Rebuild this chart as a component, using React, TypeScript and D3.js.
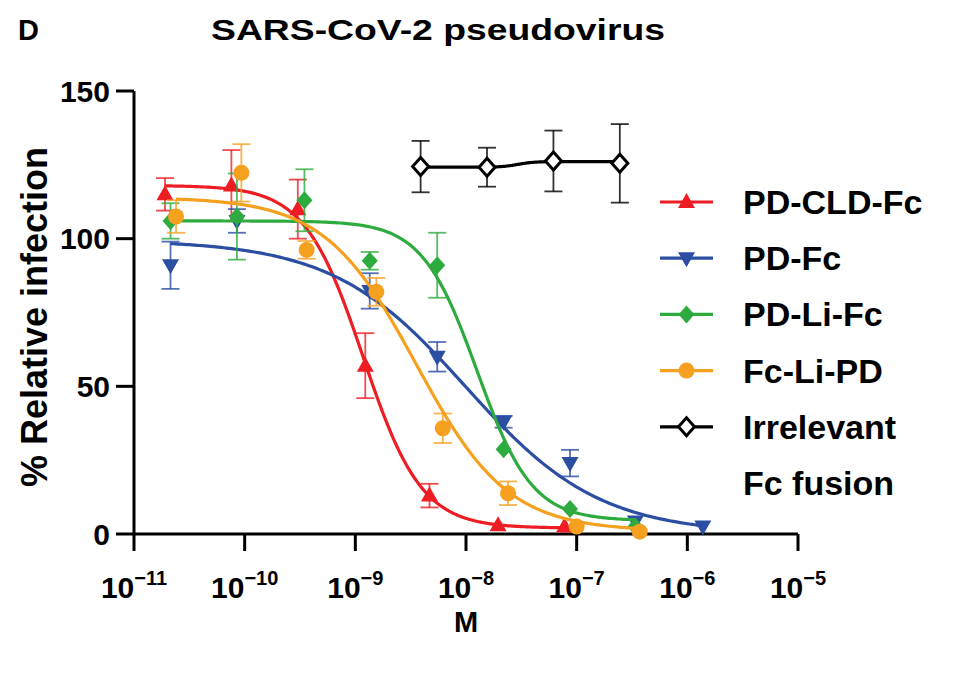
import React from "react";
import * as d3 from "d3";

// ---------- data (log10 of molar concentration, % relative infection, error) ----------
const seriesNames = ["PD-CLD-Fc", "PD-Fc", "PD-Li-Fc", "Fc-Li-PD", "Irrelevant"];
const seriesColors = ["#ee1d23", "#2b4ea2", "#2eab3e", "#f6a020", "#000000"];

const redX = [-10.72, -10.12, -9.52, -8.91, -8.33, -7.71, -7.11];
const redY = [115, 118, 110, 57, 13, 3, 2.5];
const redErr = [5.5, 12, 10, 11, 4, 0, 0];

const blueX = [-10.67, -10.07, -8.87, -8.26, -7.66, -7.06, -6.47, -5.86];
const blueY = [91, 106, 82.3, 60, 38, 24, 4.2, 2.5];
const blueErr = [8, 4, 6, 5, 2, 4.5, 0, 0];

const greenX = [-10.67, -10.07, -9.46, -8.87, -8.26, -7.66, -7.06, -6.47];
const greenY = [106, 107.5, 113, 92.5, 91, 28.7, 8.5, 2.5];
const greenErr = [6, 14.6, 10.5, 3, 11, 0, 0, 0];

const orangeX = [-10.62, -10.03, -9.44, -8.81, -8.21, -7.62, -7.0, -6.43];
const orangeY = [107.5, 122.3, 96.2, 82, 35.8, 13.8, 2.5, 0.8];
const orangeErr = [5.5, 9.7, 3, 4.7, 5, 4, 0, 0];

const blackX = [-8.41, -7.81, -7.21, -6.61];
const blackY = [124.4, 124.2, 126.3, 125.5];
const blackErr = [8.7, 6.6, 10.3, 13.3];

// fitted curve parameters: [top, bottom, logIC50, hill]
const redFit = [118, 2, -8.93, 1.65];
const blueFit = [99.5, 0, -8.0, 0.72];
const greenFit = [106, 4.5, -7.9, 1.75];
const orangeFit = [114, 1, -8.45, 1.05];
const blackFit = [126.1, 124.2, -7.53, -6];

const xTickExps = [-11, -10, -9, -8, -7, -6, -5];
const yTicks = [0, 50, 100, 150];

const W = 958;
const H = 676;
const FONT = "'Liberation Sans', Arial, Helvetica, sans-serif";

const x = d3.scaleLog().domain([1e-11, 1e-5]).range([134, 798]);
const y = d3.scaleLinear().domain([0, 150]).range([534, 91]);

function hill(p: number[], lx: number) {
  const [top, bottom, ic, h] = p;
  return bottom + (top - bottom) / (1 + Math.pow(10, (lx - ic) * h));
}

type Shape = "up" | "down" | "diamond" | "circle" | "odiamond";

function Marker({ cx, cy, shape, color }: { cx: number; cy: number; shape: Shape; color: string }) {
  if (shape === "circle") return <circle cx={cx} cy={cy} r={8} fill={color} />;
  if (shape === "up")
    return <path d={`M${cx},${cy - 9}L${cx + 8.5},${cy + 6}L${cx - 8.5},${cy + 6}Z`} fill={color} />;
  if (shape === "down")
    return <path d={`M${cx},${cy + 9}L${cx + 8.5},${cy - 6}L${cx - 8.5},${cy - 6}Z`} fill={color} />;
  if (shape === "diamond")
    return <path d={`M${cx},${cy - 9}L${cx + 8},${cy}L${cx},${cy + 9}L${cx - 8},${cy}Z`} fill={color} />;
  return (
    <path
      d={`M${cx},${cy - 9}L${cx + 8},${cy}L${cx},${cy + 9}L${cx - 8},${cy}Z`}
      fill="#fff"
      stroke={color}
      strokeWidth={3}
    />
  );
}

const series = [
  { name: seriesNames[0], color: seriesColors[0], xs: redX, ys: redY, es: redErr, fit: redFit, shape: "up" as Shape },
  { name: seriesNames[1], color: seriesColors[1], xs: blueX, ys: blueY, es: blueErr, fit: blueFit, shape: "down" as Shape },
  { name: seriesNames[2], color: seriesColors[2], xs: greenX, ys: greenY, es: greenErr, fit: greenFit, shape: "diamond" as Shape },
  { name: seriesNames[3], color: seriesColors[3], xs: orangeX, ys: orangeY, es: orangeErr, fit: orangeFit, shape: "circle" as Shape },
  { name: seriesNames[4], color: seriesColors[4], xs: blackX, ys: blackY, es: blackErr, fit: blackFit, shape: "odiamond" as Shape },
];

const line = d3
  .line<[number, number]>()
  .x((d) => x(Math.pow(10, d[0])))
  .y((d) => y(d[1]));

export default function App() {
  return (
    <svg
      width={W}
      height={H}
      style={{ position: "absolute", left: 0, top: 0, background: "#fff" }}
      fontFamily={FONT}
      fontWeight="bold"
    >
      <rect width={W} height={H} fill="#fff" />
      <text x={18} y={40} fontSize={29}>D</text>
      <text x={211} y={40} fontSize={30} textLength={454} lengthAdjust="spacingAndGlyphs">
        SARS-CoV-2 pseudovirus
      </text>

      {/* axes */}
      <g stroke="#000" strokeWidth={3} fill="none">
        <path d={`M${x(1e-11)},${y(150)}V${y(0)}H${x(1e-5)}`} />
        {yTicks.map((t) => (
          <line key={t} x1={116} x2={x(1e-11)} y1={y(t)} y2={y(t)} />
        ))}
        {xTickExps.map((e) => (
          <line key={e} x1={x(Math.pow(10, e))} x2={x(Math.pow(10, e))} y1={y(0)} y2={y(0) + 17} />
        ))}
      </g>
      {yTicks.map((t) => (
        <text key={t} x={110} y={y(t) + 10.5} fontSize={30} textAnchor="end">
          {t}
        </text>
      ))}
      {xTickExps.map((e) => (
        <text key={e} x={x(Math.pow(10, e))} y={598} fontSize={30} textAnchor="middle">
          10
          <tspan fontSize={20} dy={-13}>
            {"\u2212" + Math.abs(e)}
          </tspan>
        </text>
      ))}
      <text x={466} y={632} fontSize={29} textAnchor="middle">M</text>
      <text transform="translate(47,317) rotate(-90)" fontSize={36} textAnchor="middle">
        % Relative infection
      </text>

      {/* series */}
      {series.map((s) => {
        const lo = d3.min(s.xs)!;
        const hi = d3.max(s.xs)!;
        const pts: [number, number][] = d3.range(0, 201).map((i) => {
          const lx = lo + ((hi - lo) * i) / 200;
          return [lx, hill(s.fit, lx)];
        });
        return (
          <g key={s.name}>
            <path d={line(pts)!} fill="none" stroke={s.color} strokeWidth={3.2} />
            {s.xs.map((lx, i) =>
              s.es[i] > 0 ? (
                <g key={"e" + i} stroke={s.color} strokeWidth={1.8} strokeOpacity={0.8}>
                  <line x1={x(Math.pow(10, lx))} x2={x(Math.pow(10, lx))} y1={y(s.ys[i] - s.es[i])} y2={y(s.ys[i] + s.es[i])} />
                  <line x1={x(Math.pow(10, lx)) - 9} x2={x(Math.pow(10, lx)) + 9} y1={y(s.ys[i] - s.es[i])} y2={y(s.ys[i] - s.es[i])} />
                  <line x1={x(Math.pow(10, lx)) - 9} x2={x(Math.pow(10, lx)) + 9} y1={y(s.ys[i] + s.es[i])} y2={y(s.ys[i] + s.es[i])} />
                </g>
              ) : null
            )}
            {s.xs.map((lx, i) => (
              <Marker key={"m" + i} cx={x(Math.pow(10, lx))} cy={y(s.ys[i])} shape={s.shape} color={s.color} />
            ))}
          </g>
        );
      })}

      {/* legend */}
      {series.map((s, i) => {
        const ly = 202 + i * 56.2;
        return (
          <g key={"lg" + s.name}>
            <line x1={660} x2={713} y1={ly} y2={ly} stroke={s.color} strokeWidth={3.2} />
            <Marker cx={686.5} cy={ly} shape={s.shape} color={s.color} />
            <text x={743} y={ly + 12} fontSize={34}>
              {s.name}
            </text>
          </g>
        );
      })}
      <text x={743} y={202 + 5 * 56.2 + 12} fontSize={34}>
        Fc fusion
      </text>
    </svg>
  );
}
